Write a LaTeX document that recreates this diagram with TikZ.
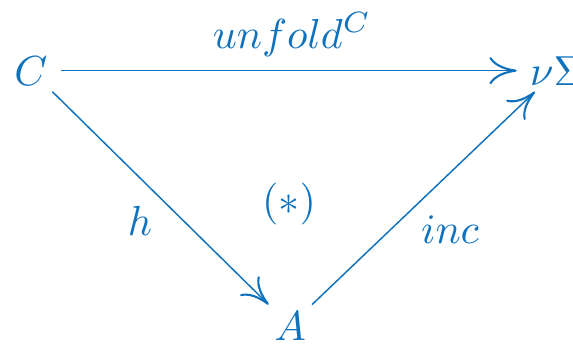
\documentclass[tikz,border=0pt]{standalone}
\usetikzlibrary{arrows.meta}
\definecolor{diagblue}{RGB}{16,114,189}
\begin{document}
\begin{tikzpicture}[x=0.2381pt,y=-0.2381pt,
  every node/.style={text=diagblue},
  obj/.style={anchor=base,inner xsep=3pt,inner ysep=1.4pt},
  lbl/.style={anchor=base,inner sep=0pt},
  arr/.style={draw=diagblue,line width=0.35pt,
    -{Computer Modern Rightarrow[length=6.5pt,width=6.5pt,line width=0.5pt]}}]
\useasboundingbox (0,0) rectangle (573,344);
\node[obj] (C) at (31,85) {$C$};
\node[obj] (N) at (557,85) {$\nu\Sigma$};
\node[obj] (A) at (290,340) {$A$};
\node[lbl] (l1) at (292,48) {$unfold^C$};
\node[lbl] (l2) at (140,235) {$h$};
\node[lbl] (l3) at (289,214) {$(*)$};
\node[lbl] (l4) at (450,243) {$inc$};
\draw[arr] (C) -- (N);
\draw[arr] (C) -- (A);
\draw[arr] (A) -- (N);
\end{tikzpicture}
\end{document}
